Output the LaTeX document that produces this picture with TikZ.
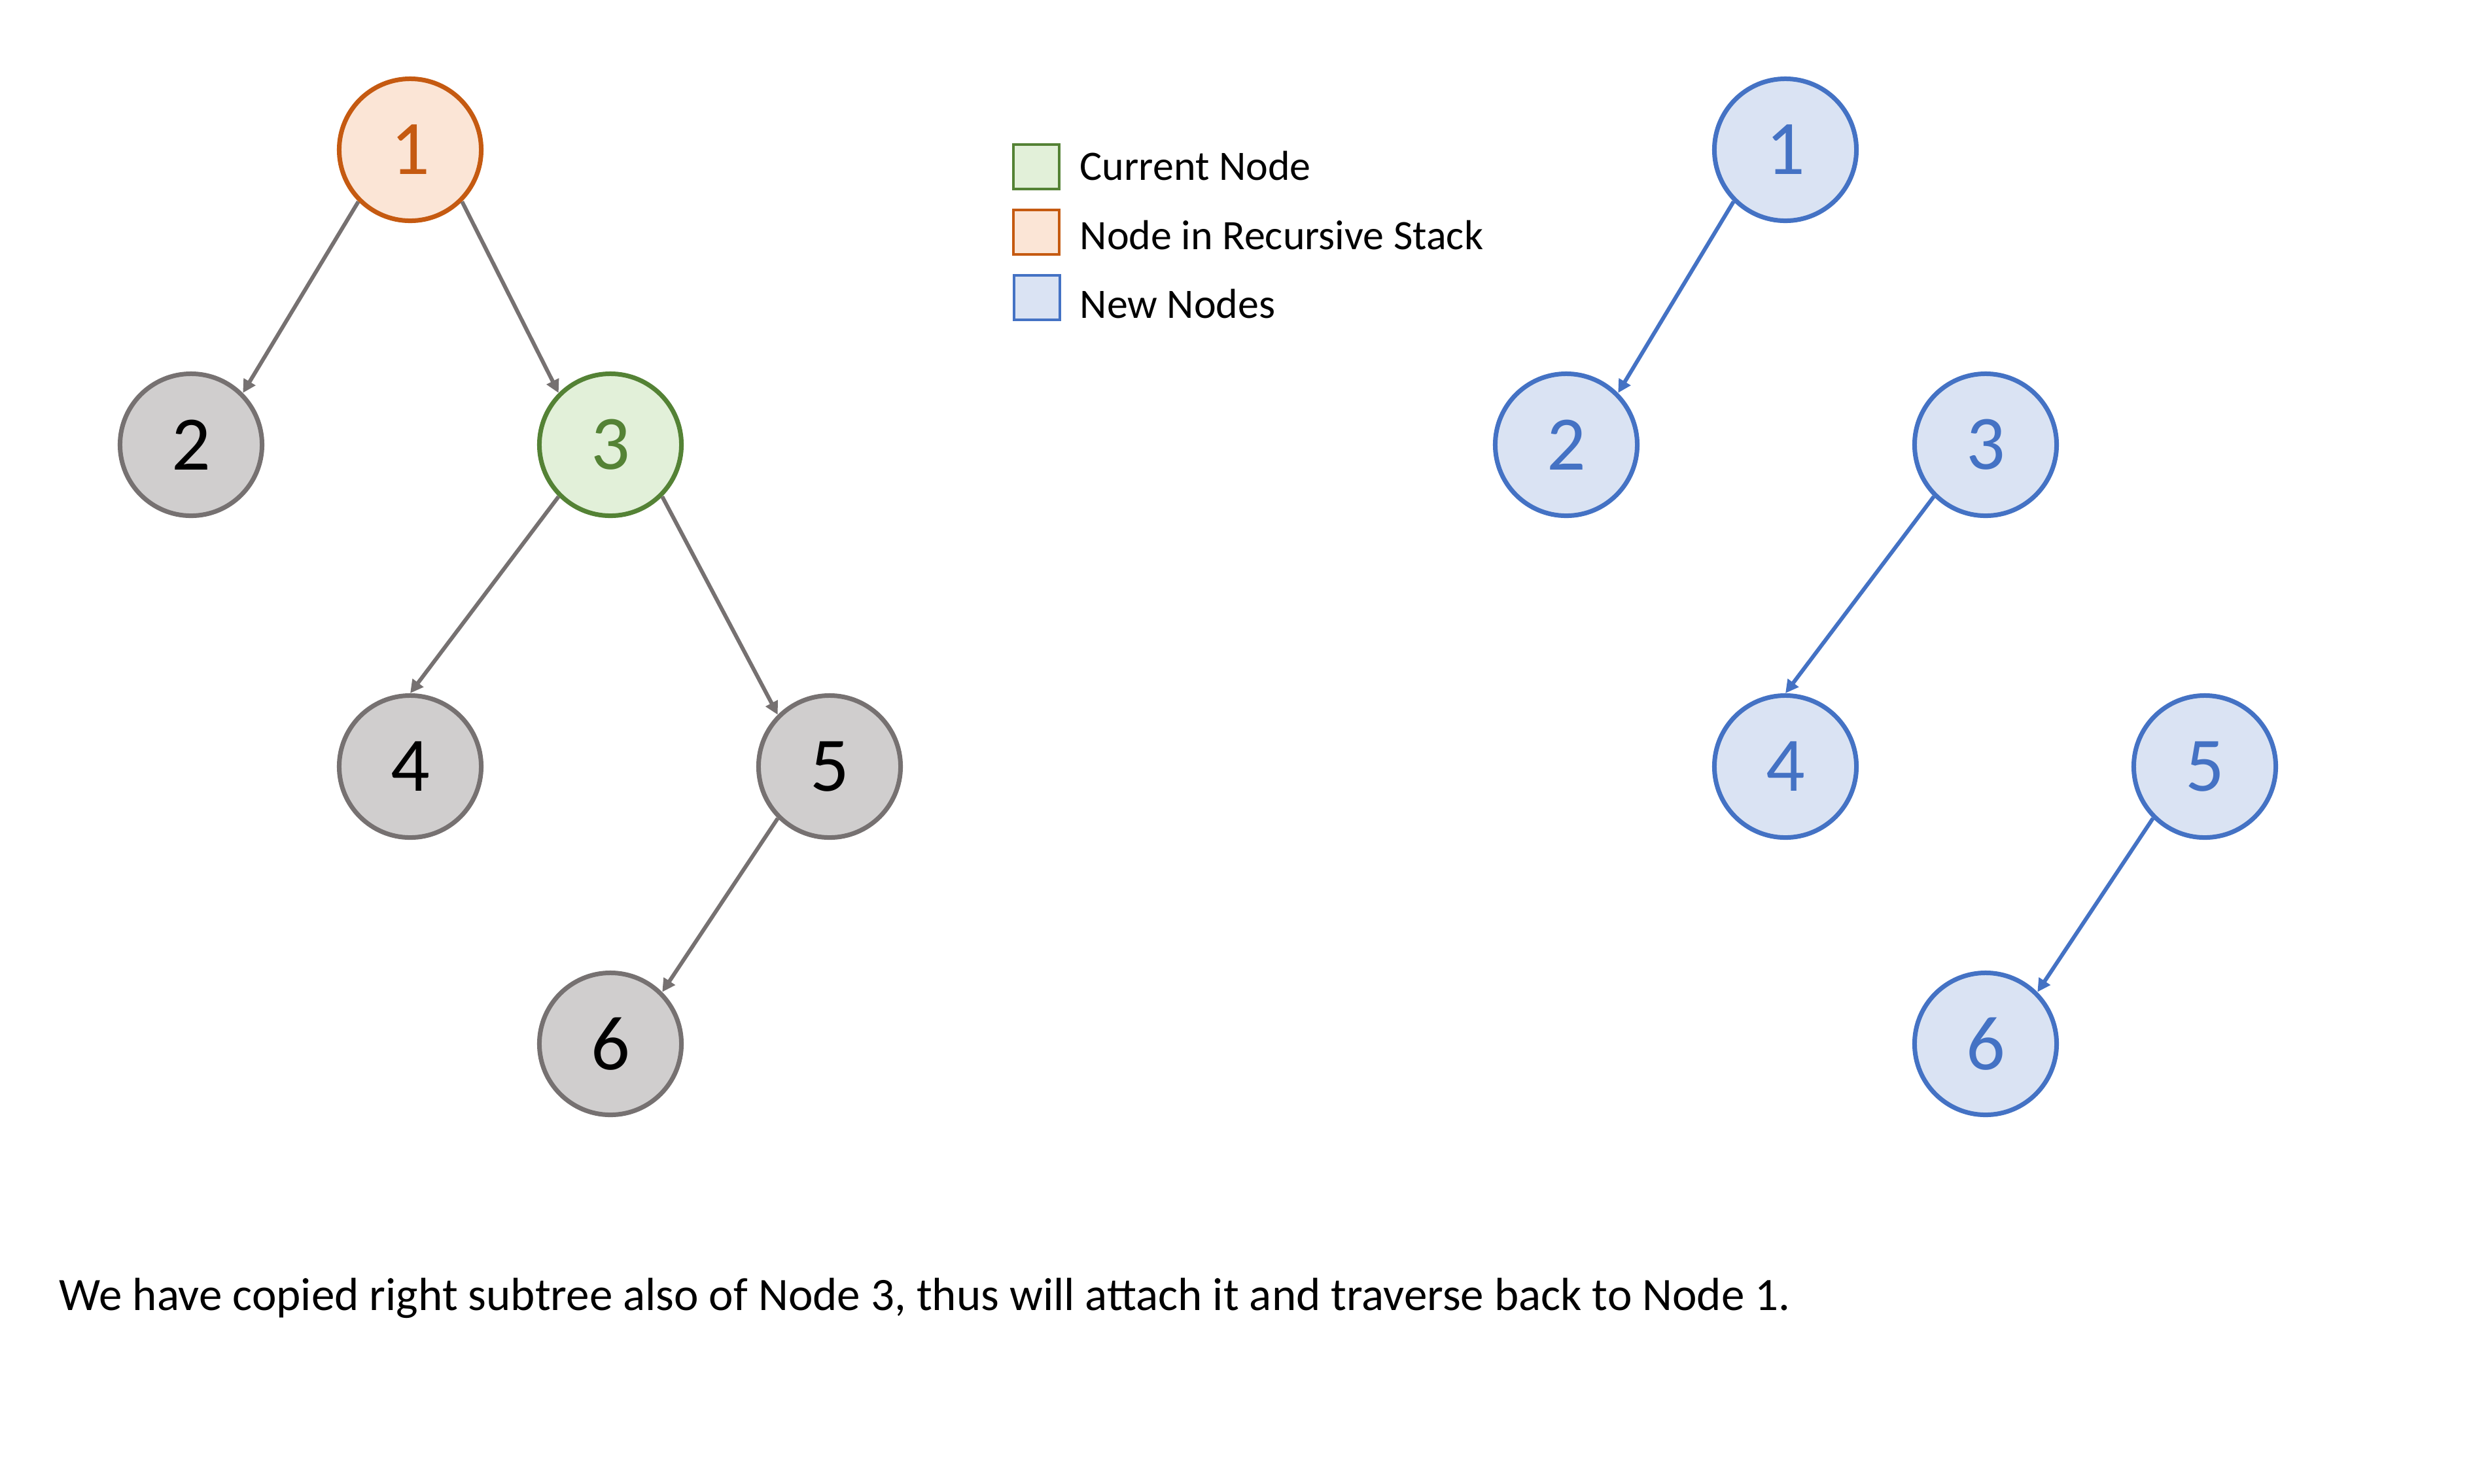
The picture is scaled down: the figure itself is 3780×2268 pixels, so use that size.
\documentclass[tikz,border=0pt]{standalone}
\usepackage{fontspec}
\setmainfont{Carlito}
\usetikzlibrary{arrows.meta}

\definecolor{stackline}{HTML}{C55A11}
\definecolor{stackfill}{HTML}{FBE5D6}
\definecolor{curline}{HTML}{548235}
\definecolor{curfill}{HTML}{E2F0D9}
\definecolor{newline}{HTML}{4472C4}
\definecolor{newfill}{HTML}{DAE3F3}
\definecolor{oldline}{HTML}{767171}
\definecolor{oldfill}{HTML}{D0CECE}

\begin{document}
\begin{tikzpicture}[x=0.01cm, y=-0.01cm,
  treenode/.style={circle, minimum size=2.17cm, inner sep=0pt, line width=0.07cm,
                   font=\fontsize{33.5}{40}\selectfont},
  oldnode/.style={treenode, draw=oldline, fill=oldfill, text=black},
  stacknode/.style={treenode, draw=stackline, fill=stackfill, text=stackline},
  curnode/.style={treenode, draw=curline, fill=curfill, text=curline},
  newnode/.style={treenode, draw=newline, fill=newfill, text=newline},
  oldlink/.style={draw=oldline, line width=0.06cm, -{Triangle[length=0.2cm,width=0.2cm]}},
  newlink/.style={draw=newline, line width=0.06cm, -{Triangle[length=0.2cm,width=0.2cm]}},
  keybox/.style={rectangle, minimum width=0.69cm, minimum height=0.68cm, inner sep=0pt, line width=0.04cm},
  keytext/.style={anchor=base west, inner sep=0pt, font=\fontsize{18.2}{22}\selectfont},
  caption/.style={anchor=base west, inner sep=0pt, font=\fontsize{20.2}{25}\selectfont}
]
\useasboundingbox (0,0) rectangle (3780,2268);

% original tree
\node[stacknode] (L1) at (627,229) {1};
\node[oldnode]   (L2) at (292,680) {2};
\node[curnode]   (L3) at (933,680) {3};
\node[oldnode]   (L4) at (627,1172) {4};
\node[oldnode]   (L5) at (1268,1172) {5};
\node[oldnode]   (L6) at (933,1596) {6};

\draw[oldlink] (L1.south west) -- (L2.north east);
\draw[oldlink] (L1.south east) -- (L3.north west);
\draw[oldlink] (L3.south west) -- (L4.north);
\draw[oldlink] (L3.south east) -- (L5.north west);
\draw[oldlink] (L5.south west) -- (L6.north east);

% copied tree
\node[newnode] (R1) at (2729,229) {1};
\node[newnode] (R2) at (2394,680) {2};
\node[newnode] (R3) at (3035,680) {3};
\node[newnode] (R4) at (2729,1172) {4};
\node[newnode] (R5) at (3370,1172) {5};
\node[newnode] (R6) at (3035,1596) {6};

\draw[newlink] (R1.south west) -- (R2.north east);
\draw[newlink] (R3.south west) -- (R4.north);
\draw[newlink] (R5.south west) -- (R6.north east);

% legend
\node[keybox, draw=curline, fill=curfill]     (k1) at (1584,255) {};
\node[keybox, draw=stackline, fill=stackfill] (k2) at (1584,355) {};
\node[keybox, draw=newline, fill=newfill]     (k3) at (1585,455) {};
\node[keytext] (t1) at (1650,275) {Current Node};
\node[keytext] (t2) at (1650,381) {Node in Recursive Stack};
\node[keytext] (t3) at (1650,486) {New Nodes};

% caption
\node[caption] (cap) at (90,2003) {We have copied right subtree also of Node 3, thus will attach it and traverse back to Node 1.};
\end{tikzpicture}
\end{document}
